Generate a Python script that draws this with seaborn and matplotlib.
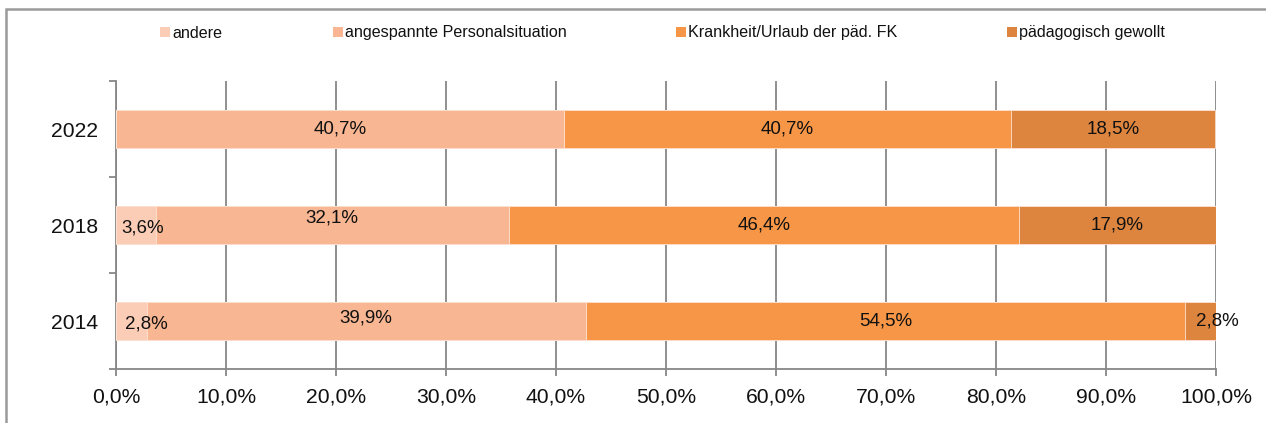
import matplotlib
matplotlib.use("Agg")
import matplotlib.pyplot as plt
from matplotlib.patches import Patch, Rectangle
import seaborn as sns
import pandas as pd
import numpy as np

# ---- data ----
years = ["2022", "2018", "2014"]
series_names = ["andere", "angespannte Personalsituation",
                "Krankheit/Urlaub der päd. FK", "pädagogisch gewollt"]
andere = [0.0, 3.6, 2.8]
angespannt = [40.7, 32.1, 39.9]
krankheit = [40.7, 46.4, 54.5]
paedagogisch = [18.5, 17.9, 2.8]
x_ticks = [0, 10, 20, 30, 40, 50, 60, 70, 80, 90, 100]
x_ticklabels = ["0,0%", "10,0%", "20,0%", "30,0%", "40,0%", "50,0%",
                "60,0%", "70,0%", "80,0%", "90,0%", "100,0%"]

colors = ["#FBCDB6", "#F8B692", "#F79646", "#DD853F"]

sns.set_theme(style="white")
plt.rcParams['font.family'] = ['Liberation Sans', 'DejaVu Sans']

values = [andere, angespannt, krankheit, paedagogisch]
cum = np.cumsum(np.array(values), axis=0)

W, H = 1266, 423
fig = plt.figure(figsize=(W / 100, H / 100), dpi=100)
ax = fig.add_axes([116 / W, (H - 369) / H, 1100 / W, 288 / H])

# draw stacked bars as overlapping cumulative bars (longest first)
for k in range(len(values) - 1, -1, -1):
    df = pd.DataFrame({"Jahr": years, "wert": cum[k]})
    sns.barplot(data=df, x="wert", y="Jahr", order=years, color=colors[k],
                width=0.4, orient="h", ax=ax, saturation=1, zorder=3,
                edgecolor="#fde3d3", linewidth=0.6)

ax.set_xlim(0, 100)
ax.set_ylim(2.5, -0.5)
ax.set_xlabel("")
ax.set_ylabel("")

# grid
ax.set_xticks(x_ticks)
ax.set_xticklabels(x_ticklabels, fontsize=15.2, color="#111111")
ax.xaxis.grid(True, color="#878787", linewidth=1.3, zorder=0)
ax.yaxis.grid(False)
ax.set_axisbelow(True)

ax.set_yticks(range(len(years)))
ax.set_yticklabels(years, fontsize=15.2, color="#111111")
ax.set_yticks([-0.5, 0.5, 1.5, 2.5], minor=True)
ax.tick_params(axis="y", which="major", length=0, pad=13)
ax.tick_params(axis="y", which="minor", length=5, width=1.3, color="#878787", direction="out", left=True)
ax.tick_params(axis="x", which="major", length=5, width=1.3, color="#878787", direction="out", bottom=True, pad=8)

for s in ["top", "right"]:
    ax.spines[s].set_visible(False)
for s in ["left", "bottom"]:
    ax.spines[s].set_color("#878787")
    ax.spines[s].set_linewidth(1.3)

# data labels
offsets = {
    (1, 0): (5, -2), (2, 0): (11, -2),
    (1, 1): (0, 5), (2, 1): (0, 2),
    (2, 3): (12, 0),
}
for k, vals in enumerate(values):
    for i, v in enumerate(vals):
        if v <= 0:
            continue
        left = cum[k][i] - v
        dx, dy = offsets.get((i, k), (0, 0))
        ax.annotate(f"{v:.1f}%".replace(".", ","), xy=(left + v / 2, i),
                    xytext=(dx, dy), textcoords="offset points",
                    ha="center", va="center", fontsize=13.5, color="#111111", zorder=5)

# legend, one entry per anchor
legend_x = [160, 333, 676, 1007]
for name, col, lx in zip(series_names, colors, legend_x):
    leg = fig.legend(handles=[Patch(facecolor=col, edgecolor="none", label=name)],
                     loc="center left", bbox_to_anchor=(lx / W, 1 - 33 / H),
                     frameon=False, fontsize=11.6, handlelength=0.6, handleheight=0.6,
                     handletextpad=0.15, borderpad=0, borderaxespad=0)
    for t in leg.get_texts():
        t.set_color("#111111")

# chart-area border
fig.add_artist(Rectangle((5.5 / W, -0.1), 2, 1.1 - 9 / H, transform=fig.transFigure,
                         fill=False, edgecolor="#9a9a9a", linewidth=1.8))

fig.savefig("out.png", dpi=100, facecolor="white")
